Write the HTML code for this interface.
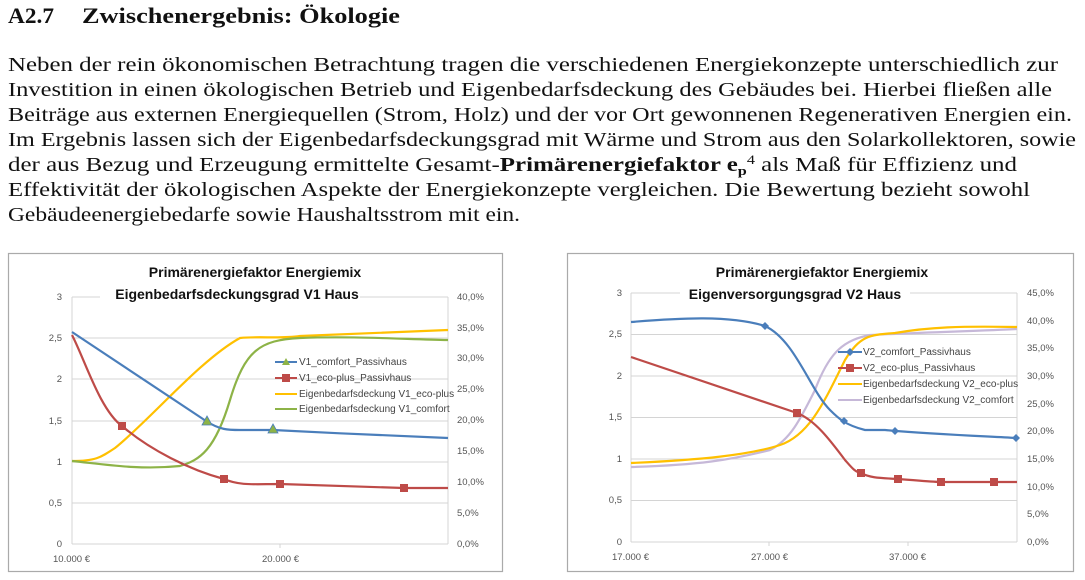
<!DOCTYPE html>
<html><head><meta charset="utf-8"><style>
html,body{margin:0;padding:0;background:#fff;width:1085px;height:580px;overflow:hidden}
svg{display:block}
.p{font-family:"Liberation Serif",serif;font-size:20px;fill:#111}
.b{font-family:"Liberation Serif",serif;font-size:22px;font-weight:bold;fill:#111}
.ax{font-family:"Liberation Sans",sans-serif;font-size:9.5px;fill:#555}
.tt{font-family:"Liberation Sans",sans-serif;font-size:14px;font-weight:bold;fill:#111}
.lg{font-family:"Liberation Sans",sans-serif;font-size:10px;fill:#444}
</style></head><body>
<svg width="1085" height="580" viewBox="0 0 1085 580">
<text x="8" y="23" class="b" textLength="46" lengthAdjust="spacingAndGlyphs">A2.7</text>
<text x="82" y="23" class="b" textLength="318" lengthAdjust="spacingAndGlyphs">Zwischenergebnis: Ökologie</text>
<text x="8" y="71" class="p" textLength="1050" lengthAdjust="spacingAndGlyphs">Neben der rein ökonomischen Betrachtung tragen die verschiedenen Energiekonzepte unterschiedlich zur</text>
<text x="8" y="96" class="p" textLength="1044" lengthAdjust="spacingAndGlyphs">Investition in einen ökologischen Betrieb und Eigenbedarfsdeckung des Gebäudes bei. Hierbei fließen alle</text>
<text x="8" y="121" class="p" textLength="1064" lengthAdjust="spacingAndGlyphs">Beiträge aus externen Energiequellen (Strom, Holz) und der vor Ort gewonnenen Regenerativen Energien ein.</text>
<text x="8" y="146" class="p" textLength="1068" lengthAdjust="spacingAndGlyphs">Im Ergebnis lassen sich der Eigenbedarfsdeckungsgrad mit Wärme und Strom aus den Solarkollektoren, sowie</text>
<text x="8" y="171" class="p" textLength="1009" lengthAdjust="spacingAndGlyphs">der aus Bezug und Erzeugung ermittelte Gesamt-<tspan font-weight="bold">Primärenergiefaktor e</tspan><tspan font-weight="bold" font-size="13" dy="4">p</tspan><tspan font-size="13" dy="-11">4</tspan><tspan dy="7"> als Maß für Effizienz und</tspan></text>
<text x="8" y="196" class="p" textLength="1022" lengthAdjust="spacingAndGlyphs">Effektivität der ökologischen Aspekte der Energiekonzepte vergleichen. Die Bewertung bezieht sowohl</text>
<text x="8" y="221" class="p" textLength="512" lengthAdjust="spacingAndGlyphs">Gebäudeenergiebedarfe sowie Haushaltsstrom mit ein.</text>

<!-- Chart 1 -->
<rect x="8.5" y="253.5" width="494" height="318" fill="#fff" stroke="#aaa" stroke-width="1.2"/>
<g stroke="#d4d4d4" stroke-width="1">
<line x1="72" y1="297" x2="448" y2="297"/><line x1="72" y1="338" x2="448" y2="338"/>
<line x1="72" y1="379" x2="448" y2="379"/><line x1="72" y1="421" x2="448" y2="421"/>
<line x1="72" y1="462" x2="448" y2="462"/><line x1="72" y1="503" x2="448" y2="503"/>
<line x1="72" y1="544" x2="448" y2="544"/>
<line x1="72" y1="297" x2="72" y2="544"/><line x1="448" y1="297" x2="448" y2="544"/>
<line x1="280" y1="544" x2="280" y2="548"/>
</g>
<g class="ax" text-anchor="end">
<text x="62" y="300">3</text><text x="62" y="341">2,5</text><text x="62" y="382">2</text>
<text x="62" y="424">1,5</text><text x="62" y="465">1</text><text x="62" y="506">0,5</text><text x="62" y="547">0</text>
</g>
<g class="ax">
<text x="457" y="300">40,0%</text><text x="457" y="331">35,0%</text><text x="457" y="361">30,0%</text>
<text x="457" y="392">25,0%</text><text x="457" y="423">20,0%</text><text x="457" y="454">15,0%</text>
<text x="457" y="485">10,0%</text><text x="457" y="516">5,0%</text><text x="457" y="547">0,0%</text>
<text x="53" y="562">10.000 €</text><text x="262" y="562">20.000 €</text>
</g>
<text x="255" y="277" class="tt" text-anchor="middle">Primärenergiefaktor Energiemix</text>
<rect x="100" y="284" width="260" height="16" fill="#fff"/>
<text x="237" y="299" class="tt" text-anchor="middle">Eigenbedarfsdeckungsgrad V1 Haus</text>
<g fill="none" stroke-width="2.2">
<path d="M72,461 C95,461 100,458 115,448 C150,420 200,360 240,338 C260,336 280,339 300,336 L448,330" stroke="#ffc000"/>
<path d="M72,461 C110,465 140,470 180,466 C200,460 215,450 230,400 C245,350 260,340 300,338 C350,336 400,339 448,340" stroke="#8db347"/>
<path d="M72,332 L206,421 C220,430 228,430 240,430 L273,430 C330,433 400,436 448,438" stroke="#4a7ebb"/>
<path d="M72,335 C85,360 100,410 122,426 C150,450 190,470 224,479 C240,486 255,484 280,484 L404,488 L448,488" stroke="#be4b48"/>
</g>
<g fill="#8db347" stroke="#4a7ebb" stroke-width="0.8">
<path d="M207,416 L212,425 L202,425Z"/><path d="M273,424 L278,433 L268,433Z"/>
</g>
<g fill="#be4b48">
<rect x="118" y="422" width="8" height="8"/><rect x="220" y="475" width="8" height="8"/>
<rect x="276" y="480" width="8" height="8"/><rect x="400" y="484" width="8" height="8"/>
</g>
<g stroke-width="2">
<line x1="275" y1="362" x2="297" y2="362" stroke="#4a7ebb"/>
<line x1="275" y1="378" x2="297" y2="378" stroke="#be4b48"/>
<line x1="275" y1="394" x2="297" y2="394" stroke="#ffc000"/>
<line x1="275" y1="409" x2="297" y2="409" stroke="#8db347"/>
</g>
<path d="M286,358 L290,365 L282,365Z" fill="#8db347"/>
<rect x="282" y="374" width="8" height="8" fill="#be4b48"/>
<g class="lg">
<text x="299" y="365">V1_comfort_Passivhaus</text>
<text x="299" y="381">V1_eco-plus_Passivhaus</text>
<text x="299" y="397">Eigenbedarfsdeckung V1_eco-plus</text>
<text x="299" y="412">Eigenbedarfsdeckung V1_comfort</text>
</g>

<!-- Chart 2 -->
<rect x="567.5" y="253.5" width="506" height="318" fill="#fff" stroke="#aaa" stroke-width="1.2"/>
<g stroke="#d4d4d4" stroke-width="1">
<line x1="631" y1="293" x2="1017" y2="293"/><line x1="631" y1="334.5" x2="1017" y2="334.5"/>
<line x1="631" y1="376" x2="1017" y2="376"/><line x1="631" y1="417.5" x2="1017" y2="417.5"/>
<line x1="631" y1="459" x2="1017" y2="459"/><line x1="631" y1="500.5" x2="1017" y2="500.5"/>
<line x1="631" y1="542" x2="1017" y2="542"/>
<line x1="631" y1="293" x2="631" y2="542"/><line x1="1017" y1="293" x2="1017" y2="542"/>
<line x1="769" y1="542" x2="769" y2="546"/><line x1="908" y1="542" x2="908" y2="546"/>
</g>
<g class="ax" text-anchor="end">
<text x="622" y="296">3</text><text x="622" y="337">2,5</text><text x="622" y="379">2</text>
<text x="622" y="420">1,5</text><text x="622" y="462">1</text><text x="622" y="503">0,5</text><text x="622" y="545">0</text>
</g>
<g class="ax">
<text x="1027" y="296">45,0%</text><text x="1027" y="324">40,0%</text><text x="1027" y="351">35,0%</text>
<text x="1027" y="379">30,0%</text><text x="1027" y="407">25,0%</text><text x="1027" y="434">20,0%</text>
<text x="1027" y="462">15,0%</text><text x="1027" y="490">10,0%</text><text x="1027" y="517">5,0%</text>
<text x="1027" y="545">0,0%</text>
<text x="612" y="560">17.000 €</text><text x="751" y="560">27.000 €</text><text x="889" y="560">37.000 €</text>
</g>
<text x="822" y="277" class="tt" text-anchor="middle">Primärenergiefaktor Energiemix</text>
<rect x="680" y="282" width="230" height="16" fill="#fff"/>
<text x="795" y="299" class="tt" text-anchor="middle">Eigenversorgungsgrad V2 Haus</text>
<g fill="none" stroke-width="2.2">
<path d="M631,467 C700,465 730,460 770,450 C790,440 800,420 815,390 C830,350 845,340 870,335 C930,332 980,331 1017,329" stroke="#c6b8d8"/>
<path d="M631,463 C700,460 750,455 780,445 C810,435 825,400 845,360 C860,335 870,335 895,333 C930,327 960,326 1017,327" stroke="#ffc000"/>
<path d="M631,322 C680,318 730,315 765,326 C795,340 810,390 830,410 C838,418 845,425 865,430 L885,430 C930,434 980,436 1016,438" stroke="#4a7ebb"/>
<path d="M631,357 L797,413 C815,420 830,440 845,460 C852,468 855,472 861,473 C870,478 880,478 898,479 C925,481 935,482 941,482 L1017,482" stroke="#be4b48"/>
</g>
<g fill="#4a7ebb">
<path d="M765,322 L769,326 L765,330 L761,326Z"/><path d="M844,417 L848,421 L844,425 L840,421Z"/>
<path d="M895,427 L899,431 L895,435 L891,431Z"/><path d="M1016,434 L1020,438 L1016,442 L1012,438Z"/>
</g>
<g fill="#be4b48">
<rect x="793" y="409" width="8" height="8"/><rect x="857" y="469" width="8" height="8"/>
<rect x="894" y="475" width="8" height="8"/><rect x="937" y="478" width="8" height="8"/>
<rect x="990" y="478" width="8" height="8"/>
</g>
<g stroke-width="2">
<line x1="838" y1="352" x2="862" y2="352" stroke="#4a7ebb"/>
<line x1="838" y1="368" x2="862" y2="368" stroke="#be4b48"/>
<line x1="838" y1="384" x2="862" y2="384" stroke="#ffc000"/>
<line x1="838" y1="400" x2="862" y2="400" stroke="#c6b8d8"/>
</g>
<path d="M850,348 L854,352 L850,356 L846,352Z" fill="#4a7ebb"/>
<rect x="846" y="364" width="8" height="8" fill="#be4b48"/>
<g class="lg">
<text x="863" y="355">V2_comfort_Passivhaus</text>
<text x="863" y="371">V2_eco-plus_Passivhaus</text>
<text x="863" y="387">Eigenbedarfsdeckung V2_eco-plus</text>
<text x="863" y="403">Eigenbedarfsdeckung V2_comfort</text>
</g>
</svg>
</body></html>
